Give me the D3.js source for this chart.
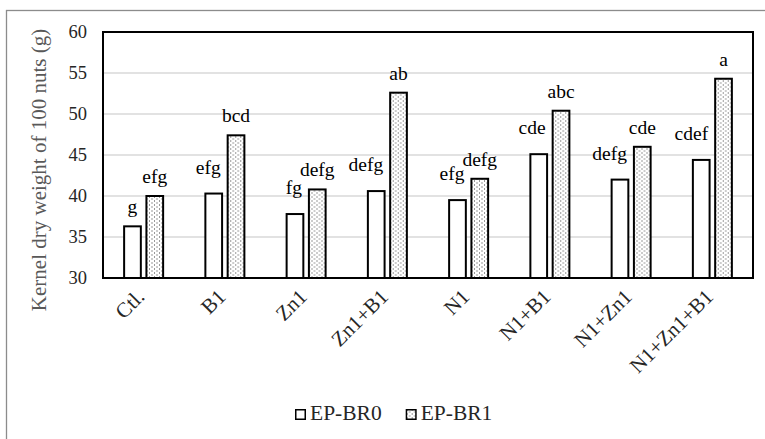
<!DOCTYPE html>
<html>
<head>
<meta charset="utf-8">
<script src="https://cdn.jsdelivr.net/npm/d3@7"></script>
<style>
  html, body { margin: 0; padding: 0; background: #fff; }
  svg { display: block; }
</style>
</head>
<body>
<svg id="chart" width="765" height="439"></svg>
<script>
// ---- data ----
const categories = ["Ctl.", "B1", "Zn1", "Zn1+B1", "N1", "N1+B1", "N1+Zn1", "N1+Zn1+B1"];
const seriesNames = ["EP-BR0", "EP-BR1"];
const epBR0 = [36.3, 40.3, 37.8, 40.6, 39.5, 45.1, 42.0, 44.4];
const epBR1 = [40.0, 47.4, 40.8, 52.6, 42.1, 50.4, 46.0, 54.3];
const lettersBR0 = ["g", "efg", "fg", "defg", "efg", "cde", "defg", "cdef"];
const lettersBR1 = ["efg", "bcd", "defg", "ab", "defg", "abc", "cde", "a"];
const yTicks = [30, 35, 40, 45, 50, 55, 60];
const yTitle = "Kernel dry weight of 100 nuts (g)";

// ---- layout ----
const FONT = "Liberation Serif, Times New Roman, serif";
const plot = { left: 103, right: 753, top: 32, bottom: 278 };
const svg = d3.select("#chart");

const defs = svg.append("defs");
const pat = defs.append("pattern").attr("id", "dots")
  .attr("patternUnits", "userSpaceOnUse").attr("width", 5).attr("height", 4);
pat.append("rect").attr("width", 5).attr("height", 4).attr("fill", "#fff");
pat.append("rect").attr("x", 1).attr("y", 0.5).attr("width", 1).attr("height", 1).attr("fill", "#333");
pat.append("rect").attr("x", 3.5).attr("y", 2.5).attr("width", 1).attr("height", 1).attr("fill", "#333");

svg.append("rect").attr("x", 6.5).attr("y", 10.5).attr("width", 900).attr("height", 600)
  .attr("fill", "#fff").attr("stroke", "#8c8c8c").attr("stroke-width", 1.3);

const x0 = d3.scaleBand().domain(categories).range([plot.left, plot.right]).padding(0);
const bw = x0.bandwidth();
const x1 = d3.scaleBand().domain(seriesNames).range([bw / 2 - 19.5, bw / 2 + 19.5]).paddingInner(0.25);
const y = d3.scaleLinear().domain([30, 60]).range([plot.bottom, plot.top]);

svg.append("g").selectAll("line").data(yTicks.filter(t => t > 30 && t < 60)).join("line")
  .attr("x1", plot.left).attr("x2", plot.right)
  .attr("y1", d => y(d)).attr("y2", d => y(d))
  .attr("stroke", "#d9d9d9").attr("stroke-width", 1.3);

const yAxis = d3.axisLeft(y).tickValues(yTicks).tickSize(0).tickPadding(16);
const gy = svg.append("g").attr("transform", `translate(${plot.left},0)`).call(yAxis);
gy.select(".domain").remove();
gy.attr("font-family", FONT).attr("font-size", 18.5);
gy.selectAll("text").attr("fill", "#262626");

svg.append("text")
  .attr("transform", `translate(46,170) rotate(-90)`)
  .attr("text-anchor", "middle")
  .attr("font-family", FONT).attr("font-size", 21).attr("fill", "#595959")
  .text(yTitle);

const rows = categories.map((c, i) => ({ c, vals: [epBR0[i], epBR1[i]], letters: [lettersBR0[i], lettersBR1[i]] }));
const groups = svg.append("g").selectAll("g").data(rows).join("g")
  .attr("transform", d => `translate(${x0(d.c)},0)`);

groups.selectAll("rect").data(d => d.vals.map((v, j) => ({ s: seriesNames[j], v }))).join("rect")
  .attr("x", d => x1(d.s)).attr("width", x1.bandwidth())
  .attr("y", d => y(d.v)).attr("height", d => y(30) - y(d.v))
  .attr("fill", d => d.s === "EP-BR1" ? "url(#dots)" : "#fff")
  .attr("stroke", "#000").attr("stroke-width", 2);

groups.each(function (d) {
  const g = d3.select(this);
  const cw = x1(seriesNames[0]) + x1.bandwidth() / 2;
  const cd = x1(seriesNames[1]) + x1.bandwidth() / 2;
  const dottedLeft = x1(seriesNames[1]) - 1;
  g.append("text").attr("x", cd).attr("y", y(d.vals[1]) - 13)
    .attr("text-anchor", "middle").attr("font-family", FONT).attr("font-size", 19.5).attr("fill", "#000")
    .text(d.letters[1]);
  const t = g.append("text").attr("x", cw).attr("y", y(d.vals[0]) - 13)
    .attr("text-anchor", "middle").attr("font-family", FONT).attr("font-size", 19.5).attr("fill", "#000")
    .text(d.letters[0]);
  const w = t.node().getComputedTextLength();
  const limit = dottedLeft - 6;
  if (cw + w / 2 > limit && y(d.vals[1]) < y(d.vals[0])) {
    t.attr("x", limit - w / 2).attr("y", y(d.vals[0]) - 20);
  }
});

svg.append("rect").attr("x", plot.left).attr("y", plot.top)
  .attr("width", plot.right - plot.left).attr("height", plot.bottom - plot.top)
  .attr("fill", "none").attr("stroke", "#000").attr("stroke-width", 2);

svg.append("g").selectAll("text").data(categories).join("text")
  .attr("transform", d => `translate(${x0(d) + bw / 2 + 2},298) rotate(-45)`)
  .attr("text-anchor", "end")
  .attr("font-family", FONT).attr("font-size", 21).attr("fill", "#262626")
  .text(d => d);

const leg = svg.append("g").attr("transform", "translate(295,409)");
let lx = 0;
seriesNames.forEach((s, i) => {
  const it = leg.append("g").attr("transform", `translate(${lx},0)`);
  it.append("rect").attr("x", 0.75).attr("y", 0.75).attr("width", 9.5).attr("height", 9.5)
    .attr("fill", i === 1 ? "url(#dots)" : "#fff").attr("stroke", "#000").attr("stroke-width", 1.5);
  const tt = it.append("text").attr("x", 15).attr("y", 11)
    .attr("font-family", FONT).attr("font-size", 21.5).attr("fill", "#262626").text(s);
  lx += 15 + tt.node().getComputedTextLength() + 24;
});
</script>
</body>
</html>
